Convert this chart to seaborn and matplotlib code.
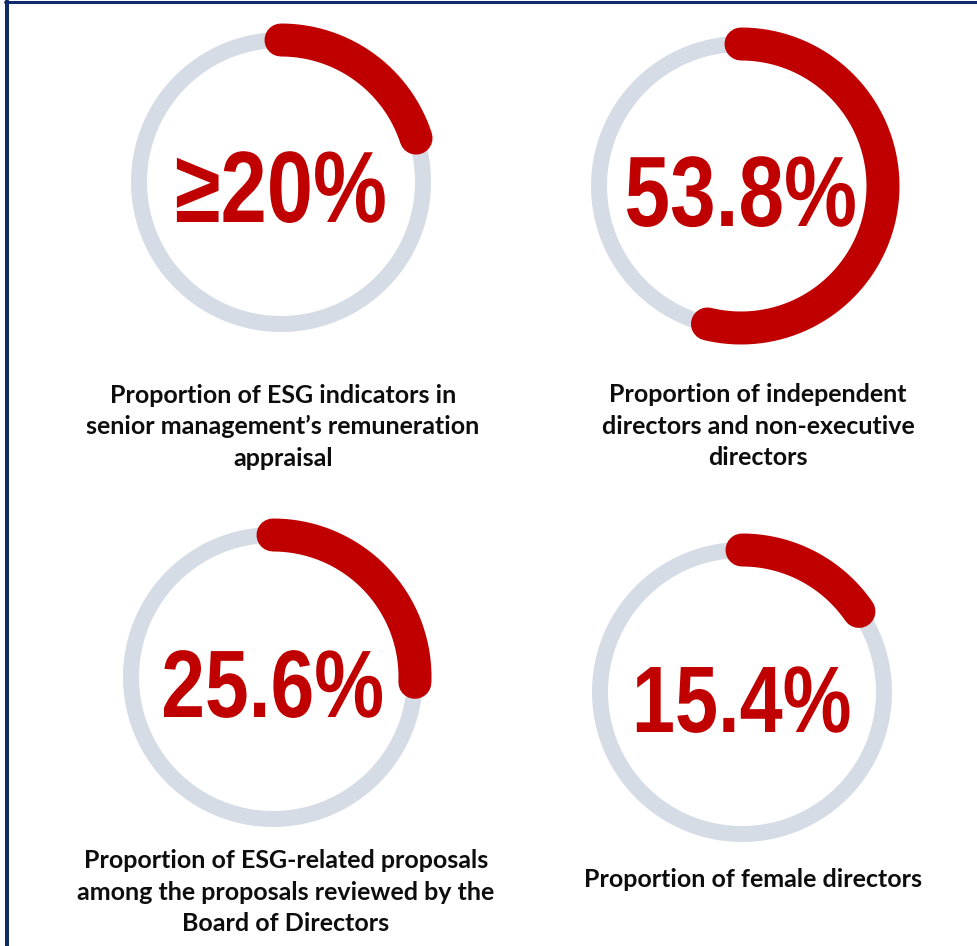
import numpy as np
import pandas as pd
import matplotlib; matplotlib.use("Agg")
import matplotlib.pyplot as plt
from matplotlib.lines import Line2D
from matplotlib.patheffects import AbstractPathEffect
from matplotlib.transforms import Affine2D
import seaborn as sns

# ---- data ----
values       = [20, 53.8, 25.6, 15.4]
value_labels = ["≥20%", "53.8%", "25.6%", "15.4%"]
captions     = [
    "Proportion of ESG indicators in\nsenior management’s remuneration\nappraisal",
    "Proportion of independent\ndirectors and non-executive\ndirectors",
    "Proportion of ESG-related proposals\namong the proposals reviewed by the\nBoard of Directors",
    "Proportion of female directors",
]

# ---- layout / style (pixels from top-left) ----
W, H, DPI   = 977, 946, 100
CENTERS     = [(281, 182), (741, 186), (273, 677), (742, 692)]
CAPTION_XY  = [(283, 403), (758, 402), (286, 868), (753, 887)]  # first baseline
VALUE_SIZE  = [73, 72, 69, 68]
LINE_STEP   = 31.5
HALF        = 175
RING_R      = 142 / HALF
VALUE_DY    = 40       # baseline of big number below circle centre
RED, GREY   = "#C00000", "#D6DCE5"
NAVY, INK   = "#0F2B69", "#0D0D0D"
PX          = 72 / DPI  # points per pixel


class Narrow(AbstractPathEffect):
    """squeeze glyphs horizontally about their centre (no narrow font installed)"""
    def __init__(self, sx=0.82):
        super().__init__()
        self.sx = sx

    def draw_path(self, renderer, gc, tpath, affine, rgbFace=None):
        xs = tpath.vertices[:, 0]
        xm = (xs.min() + xs.max()) / 2
        pre = Affine2D().translate(-xm, 0).scale(self.sx, 1).translate(xm, 0)
        renderer.draw_path(gc, tpath, pre + affine, rgbFace)


sns.set_theme(style="white")
plt.rcParams["font.family"] = ["Lato", "DejaVu Sans"]

fig = plt.figure(figsize=(W / DPI, H / DPI), dpi=DPI)


def px_rect(cx, cy, h):
    return [(cx - h) / W, 1 - (cy + h) / H, 2 * h / W, 2 * h / H]


for (cx, cy), v, lab, fs in zip(CENTERS, values, value_labels, VALUE_SIZE):
    ax = fig.add_axes(px_rect(cx, cy, HALF), projection="polar")
    ax.set_theta_zero_location("N")
    ax.set_theta_direction(-1)

    ring = pd.DataFrame({"theta": np.linspace(0, 2 * np.pi, 361), "r": RING_R})
    arc = pd.DataFrame({"theta": np.linspace(0, v / 100 * 2 * np.pi, 240), "r": RING_R})
    sns.lineplot(data=ring, x="theta", y="r", ax=ax, color=GREY, lw=16 * PX,
                 sort=False, estimator=None, legend=False)
    sns.lineplot(data=arc, x="theta", y="r", ax=ax, color=RED, lw=33 * PX,
                 sort=False, estimator=None, legend=False, solid_capstyle="round")
    ax.set_ylim(0, 1)
    ax.set_axis_off()

    ax.text(0.5, 0.5 - VALUE_DY / (2 * HALF), lab, transform=ax.transAxes,
            ha="center", va="baseline", color=RED, fontsize=fs, fontweight="bold",
            family=["Liberation Sans", "DejaVu Sans"], path_effects=[Narrow(0.82)])

for (x, y), cap in zip(CAPTION_XY, captions):
    for k, line in enumerate(cap.split("\n")):
        fig.text(x / W, 1 - (y + k * LINE_STEP) / H, line, ha="center", va="baseline",
                 color=INK, fontsize=18, fontweight="bold")

# frame (top and left edge of the panel)
fig.add_artist(Line2D([5 / W, 1], [1 - 2.5 / H] * 2, color=NAVY, lw=3 * PX,
                      transform=fig.transFigure))
fig.add_artist(Line2D([7 / W] * 2, [0, 1 - 1 / H], color=NAVY, lw=4 * PX,
                      transform=fig.transFigure))

fig.savefig("out.png", dpi=DPI)
